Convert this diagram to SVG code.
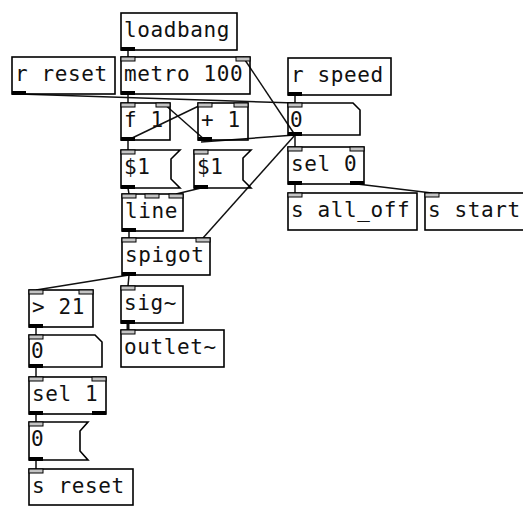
<svg xmlns="http://www.w3.org/2000/svg" width="523" height="506" viewBox="0 0 523 506">
  <style>
    .box { fill: none; stroke: #000; stroke-width: 1.6; stroke-linejoin: miter; }
    .lbl { font-family: "DejaVu Sans Mono", "Liberation Mono", monospace; font-size: 21px; letter-spacing: 0.6px; fill: #111; }
    .in { fill: #c4c4c4; stroke: #000; stroke-width: 1; }
    .out { fill: #000; }
    .cord { stroke: #111; stroke-width: 1.5; fill: none; }
    .sigcord { stroke: #111; stroke-width: 3; fill: none; }
  </style>
  <rect width="523" height="506" fill="#fff"/>

  <!-- patch cords -->
  <g id="connectors">
    <line class="cord" x1="128" y1="50" x2="128" y2="57"/>
    <line class="cord" x1="128" y1="94" x2="128" y2="103"/>
    <line class="cord" x1="128" y1="140" x2="205" y2="103"/>
    <line class="cord" x1="205" y1="140" x2="163" y2="103"/>
    <line class="cord" x1="128" y1="140" x2="128" y2="150"/>
    <line class="cord" x1="128" y1="188" x2="129" y2="194"/>
    <line class="cord" x1="129" y1="231" x2="129" y2="238"/>
    <line class="cord" x1="129" y1="275" x2="36" y2="290"/>
    <line class="cord" x1="129" y1="275" x2="128" y2="286"/>
    <line class="sigcord" x1="128" y1="323" x2="128" y2="330"/>
    <line class="cord" x1="36" y1="327" x2="36" y2="335"/>
    <line class="cord" x1="36" y1="367" x2="36" y2="377"/>
    <line class="cord" x1="36" y1="414" x2="36" y2="422"/>
    <line class="cord" x1="36" y1="460" x2="36" y2="469"/>
    <line class="cord" x1="295" y1="95" x2="295" y2="103"/>
    <line class="cord" x1="295" y1="135" x2="295" y2="147"/>
    <line class="cord" x1="295" y1="184" x2="295" y2="193"/>
    <line class="cord" x1="357" y1="184" x2="432" y2="193"/>
    <line class="cord" x1="19" y1="94" x2="295" y2="103"/>
    <line class="cord" x1="295" y1="135" x2="243" y2="57"/>
    <line class="cord" x1="295" y1="135" x2="203" y2="238"/>
    <line class="cord" x1="295" y1="135" x2="201" y2="142"/>
    <line class="cord" x1="201" y1="188" x2="176" y2="194"/>
  </g>

  <g id="loadbang">
    <rect class="box" x="121" y="13" width="116" height="37"/>
    <text class="lbl" x="124" y="37">loadbang</text>
    <rect class="out" x="121" y="47" width="14" height="4"/>
  </g>

  <g id="metro">
    <rect class="box" x="121" y="57" width="129" height="37"/>
    <text class="lbl" x="124" y="81">metro 100</text>
    <rect class="in" x="121" y="57" width="14" height="4"/>
    <rect class="in" x="236" y="57" width="14" height="4"/>
    <rect class="out" x="121" y="91" width="14" height="4"/>
  </g>

  <g id="r-reset">
    <rect class="box" x="12" y="57" width="103" height="37"/>
    <text class="lbl" x="15" y="81">r reset</text>
    <rect class="out" x="12" y="91" width="14" height="4"/>
  </g>

  <g id="r-speed">
    <rect class="box" x="288" y="58" width="103" height="37"/>
    <text class="lbl" x="291" y="82">r speed</text>
    <rect class="out" x="288" y="92" width="14" height="4"/>
  </g>

  <g id="f1">
    <rect class="box" x="121" y="103" width="49" height="37"/>
    <text class="lbl" x="124" y="127">f 1</text>
    <rect class="in" x="121" y="103" width="14" height="4"/>
    <rect class="in" x="156" y="103" width="14" height="4"/>
    <rect class="out" x="121" y="137" width="14" height="4"/>
  </g>

  <g id="plus1">
    <rect class="box" x="198" y="103" width="50" height="37"/>
    <text class="lbl" x="201" y="127">+ 1</text>
    <rect class="in" x="198" y="103" width="14" height="4"/>
    <rect class="in" x="234" y="103" width="14" height="4"/>
    <rect class="out" x="198" y="137" width="14" height="4"/>
  </g>

  <g id="speed-atom">
    <path class="box" d="M288 103 H353 L360 110 V135 H288 Z"/>
    <text class="lbl" x="290" y="127">0</text>
    <rect class="in" x="288" y="103" width="14" height="4"/>
    <rect class="out" x="288" y="132" width="14" height="4"/>
  </g>

  <g id="msg-left">
    <path class="box" d="M121 150 H180 L171 159 V179 L180 188 H121 Z"/>
    <text class="lbl" x="124" y="174">$1</text>
    <rect class="in" x="121" y="150" width="14" height="4"/>
    <rect class="out" x="121" y="185" width="14" height="4"/>
  </g>

  <g id="msg-right">
    <path class="box" d="M194 150 H251 L243 158 V180 L251 188 H194 Z"/>
    <text class="lbl" x="197" y="174">$1</text>
    <rect class="in" x="194" y="150" width="14" height="4"/>
    <rect class="out" x="194" y="185" width="14" height="4"/>
  </g>

  <g id="sel0">
    <rect class="box" x="288" y="147" width="76" height="37"/>
    <text class="lbl" x="291" y="171">sel 0</text>
    <rect class="in" x="288" y="147" width="14" height="4"/>
    <rect class="in" x="350" y="147" width="14" height="4"/>
    <rect class="out" x="288" y="181" width="14" height="4"/>
    <rect class="out" x="350" y="181" width="14" height="4"/>
  </g>

  <g id="s-all-off">
    <rect class="box" x="288" y="193" width="129" height="37"/>
    <text class="lbl" x="291" y="217">s all_off</text>
    <rect class="in" x="288" y="193" width="14" height="4"/>
  </g>

  <g id="s-start">
    <rect class="box" x="425" y="193" width="103" height="37"/>
    <text class="lbl" x="428" y="217">s start</text>
    <rect class="in" x="425" y="193" width="14" height="4"/>
  </g>

  <g id="line">
    <rect class="box" x="122" y="194" width="61" height="37"/>
    <text class="lbl" x="125" y="218">line</text>
    <rect class="in" x="122" y="194" width="14" height="4"/>
    <rect class="in" x="145" y="194" width="14" height="4"/>
    <rect class="in" x="169" y="194" width="14" height="4"/>
    <rect class="out" x="122" y="228" width="14" height="4"/>
  </g>

  <g id="spigot">
    <rect class="box" x="122" y="238" width="88" height="37"/>
    <text class="lbl" x="125" y="262">spigot</text>
    <rect class="in" x="122" y="238" width="14" height="4"/>
    <rect class="in" x="196" y="238" width="14" height="4"/>
    <rect class="out" x="122" y="272" width="14" height="4"/>
  </g>

  <g id="sig">
    <rect class="box" x="121" y="286" width="62" height="37"/>
    <text class="lbl" x="124" y="310">sig~</text>
    <rect class="in" x="121" y="286" width="14" height="4"/>
    <rect class="out" x="121" y="320" width="14" height="4"/>
  </g>

  <g id="outlet">
    <rect class="box" x="121" y="330" width="103" height="37"/>
    <text class="lbl" x="124" y="354">outlet~</text>
    <rect class="in" x="121" y="330" width="14" height="4"/>
  </g>

  <g id="gt21">
    <rect class="box" x="29" y="290" width="64" height="37"/>
    <text class="lbl" x="32" y="314">&gt; 21</text>
    <rect class="in" x="29" y="290" width="14" height="4"/>
    <rect class="in" x="79" y="290" width="14" height="4"/>
    <rect class="out" x="29" y="324" width="14" height="4"/>
  </g>

  <g id="count-atom">
    <path class="box" d="M29 335 H95 L102 342 V367 H29 Z"/>
    <text class="lbl" x="31" y="358">0</text>
    <rect class="in" x="29" y="335" width="14" height="4"/>
    <rect class="out" x="29" y="364" width="14" height="4"/>
  </g>

  <g id="sel1">
    <rect class="box" x="29" y="377" width="77" height="37"/>
    <text class="lbl" x="32" y="401">sel 1</text>
    <rect class="in" x="29" y="377" width="14" height="4"/>
    <rect class="in" x="92" y="377" width="14" height="4"/>
    <rect class="out" x="29" y="411" width="14" height="4"/>
    <rect class="out" x="92" y="411" width="14" height="4"/>
  </g>

  <g id="msg-zero">
    <path class="box" d="M29 422 H88 L80 431 V451 L88 460 H29 Z"/>
    <text class="lbl" x="31" y="446">0</text>
    <rect class="in" x="29" y="422" width="14" height="4"/>
    <rect class="out" x="29" y="457" width="14" height="4"/>
  </g>

  <g id="s-reset">
    <rect class="box" x="29" y="469" width="104" height="36"/>
    <text class="lbl" x="32" y="493">s reset</text>
    <rect class="in" x="29" y="469" width="14" height="4"/>
  </g>
</svg>
